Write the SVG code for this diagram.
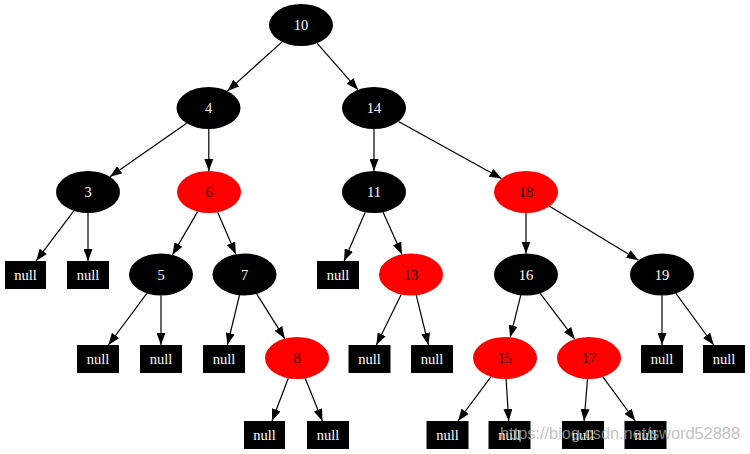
<svg xmlns="http://www.w3.org/2000/svg" width="750" height="454" viewBox="0 0 750 454">
<style>
.b ellipse{fill:#000}
.r ellipse{fill:#ff0000}
.n rect{fill:#000}
.t text{font-family:'Liberation Serif','DejaVu Serif',serif;font-size:14.5px;text-anchor:middle}
.b text,.n text{fill:#fff}
.r text{fill:#000}
#edges path{stroke:#000;stroke-width:1.2;fill:none;marker-end:url(#arr)}
.wm{font-family:'Liberation Sans',Arial,sans-serif;font-size:16px;fill:#b0b0b0;opacity:0.75}
</style>
<defs>
<marker id="arr" markerUnits="userSpaceOnUse" markerWidth="12" markerHeight="9" refX="12" refY="4.5" orient="auto">
<path d="M0,0 L12,4.5 L0,9 z" fill="#000"/>
</marker>
</defs>
<rect width="750" height="454" fill="#fff"/>
<g id="edges">
<path d="M282.1,41.9 L227.4,91.1"/>
<path d="M317,43.2 L358,89.8"/>
<path d="M186.6,123.3 L109.9,176.7"/>
<path d="M208.8,129 L208.8,171"/>
<path d="M374,129 L374,171"/>
<path d="M398.5,121.5 L501.5,178.5"/>
<path d="M73.8,210.8 L36.1,261"/>
<path d="M88,213 L88,261"/>
<path d="M197.6,211.6 L172.4,254.9"/>
<path d="M217.7,212.2 L235.8,254.3"/>
<path d="M365.2,212.2 L344.1,261"/>
<path d="M383,212.1 L402,254.4"/>
<path d="M526,213 L526,253.5"/>
<path d="M549.5,206.3 L638.5,260.2"/>
<path d="M146.9,293.4 L108.4,345"/>
<path d="M161,295.5 L161,345"/>
<path d="M239.5,295.2 L227.4,345"/>
<path d="M256.7,293.9 L284.8,338.6"/>
<path d="M401.2,294.5 L376.4,345"/>
<path d="M416.2,295.2 L428.5,345"/>
<path d="M520.8,295.2 L510.2,337.3"/>
<path d="M540.2,293.3 L574.8,339.2"/>
<path d="M662,295.5 L662,345"/>
<path d="M675.9,293.4 L713.7,345"/>
<path d="M288.3,378.2 L272,421"/>
<path d="M305.2,378.3 L322.4,421"/>
<path d="M490.9,376.9 L458,421"/>
<path d="M506.1,379 L508.7,421"/>
<path d="M587.5,379 L584.1,421"/>
<path d="M602.9,376.9 L635.2,421"/>
</g>
<g class="t" font-family="Liberation Serif, DejaVu Serif, serif">
<g id="n10" class="b"><ellipse cx="301" cy="25" rx="32" ry="21"/><text x="301" y="30">10</text></g>
<g id="n4" class="b"><ellipse cx="208.5" cy="108" rx="32" ry="21"/><text x="208.5" y="113">4</text></g>
<g id="n14" class="b"><ellipse cx="374" cy="108" rx="32" ry="21"/><text x="374" y="113">14</text></g>
<g id="n3" class="b"><ellipse cx="88" cy="192" rx="32" ry="21"/><text x="88" y="197">3</text></g>
<g id="n6" class="r"><ellipse cx="209" cy="192" rx="32" ry="21"/><text x="209" y="197">6</text></g>
<g id="n11" class="b"><ellipse cx="374" cy="192" rx="32" ry="21"/><text x="374" y="197">11</text></g>
<g id="n18" class="r"><ellipse cx="526" cy="192" rx="32" ry="21"/><text x="526" y="197">18</text></g>
<g id="null3a" class="n"><rect x="5" y="261" width="41" height="28"/><text x="25.5" y="280">null</text></g>
<g id="null3b" class="n"><rect x="67" y="261" width="42" height="28"/><text x="88" y="280">null</text></g>
<g id="n5" class="b"><ellipse cx="161" cy="274.5" rx="32" ry="21"/><text x="161" y="279.5">5</text></g>
<g id="n7" class="b"><ellipse cx="244.5" cy="274.5" rx="32" ry="21"/><text x="244.5" y="279.5">7</text></g>
<g id="null11" class="n"><rect x="317" y="261" width="42" height="28"/><text x="338" y="280">null</text></g>
<g id="n13" class="r"><ellipse cx="411" cy="274.5" rx="32" ry="21"/><text x="411" y="279.5">13</text></g>
<g id="n16" class="b"><ellipse cx="526" cy="274.5" rx="32" ry="21"/><text x="526" y="279.5">16</text></g>
<g id="n19" class="b"><ellipse cx="662" cy="274.5" rx="32" ry="21"/><text x="662" y="279.5">19</text></g>
<g id="null5a" class="n"><rect x="77" y="345" width="42" height="28"/><text x="98" y="364">null</text></g>
<g id="null5b" class="n"><rect x="140" y="345" width="42" height="28"/><text x="161" y="364">null</text></g>
<g id="null7" class="n"><rect x="203" y="345" width="42" height="28"/><text x="224" y="364">null</text></g>
<g id="n8" class="r"><ellipse cx="297" cy="358" rx="32" ry="21"/><text x="297" y="363">8</text></g>
<g id="null13a" class="n"><rect x="348.5" y="345" width="42" height="28"/><text x="369.5" y="364">null</text></g>
<g id="null13b" class="n"><rect x="411" y="345" width="42" height="28"/><text x="432" y="364">null</text></g>
<g id="n15" class="r"><ellipse cx="505" cy="358" rx="32" ry="21"/><text x="505" y="363">15</text></g>
<g id="n17" class="r"><ellipse cx="589" cy="358" rx="32" ry="21"/><text x="589" y="363">17</text></g>
<g id="null19a" class="n"><rect x="641" y="345" width="42" height="28"/><text x="662" y="364">null</text></g>
<g id="null19b" class="n"><rect x="703" y="345" width="42" height="28"/><text x="724" y="364">null</text></g>
<g id="null8a" class="n"><rect x="244" y="421" width="41" height="28"/><text x="264.5" y="440">null</text></g>
<g id="null8b" class="n"><rect x="307" y="421" width="42" height="28"/><text x="328" y="440">null</text></g>
<g id="null15a" class="n"><rect x="426.5" y="421" width="42" height="28"/><text x="447.5" y="440">null</text></g>
<g id="null15b" class="n"><rect x="488.5" y="421" width="42" height="28"/><text x="509.5" y="440">null</text></g>
<g id="null17a" class="n"><rect x="562" y="421" width="42" height="28"/><text x="583" y="440">null</text></g>
<g id="null17b" class="n"><rect x="624.5" y="421" width="42" height="28"/><text x="645.5" y="440">null</text></g>
</g>
<text class="wm" x="500" y="439" textLength="240" lengthAdjust="spacingAndGlyphs">https://blog.csdn.net/sword52888</text>
</svg>
